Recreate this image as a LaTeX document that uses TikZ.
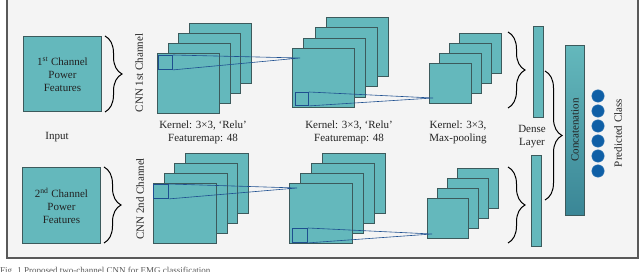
\documentclass[tikz,border=0pt]{standalone}
\usepackage{fontspec}
\setmainfont{Liberation Serif}
\usetikzlibrary{decorations.pathreplacing}
\definecolor{teal1}{HTML}{64B8BC}
\definecolor{teal2}{HTML}{3A8696}
\definecolor{edge1}{HTML}{3C5A5C}
\definecolor{kblue}{HTML}{1E4F8F}
\definecolor{cblue}{HTML}{0F5FA6}
\definecolor{bg}{HTML}{F4F4F4}
\definecolor{txt}{HTML}{222222}
\tikzset{
  fm/.style={draw=edge1, fill=teal1, line width=0.9pt, inner sep=0pt, anchor=north west},
  kern/.style={draw=kblue, line width=0.9pt, inner sep=0pt, anchor=north west},
  kline/.style={draw=kblue, line width=0.6pt},
  brc/.style={decorate, decoration={brace, amplitude=17pt}, line width=1pt, draw=black},
  lbl/.style={text=txt, font=\fontsize{11}{13}\selectfont, inner sep=0pt, align=center},
  dot/.style={circle, fill=cblue, draw=cblue!80!white, inner sep=0pt, minimum size=12.5pt}
}
\begin{document}
\begin{tikzpicture}[x=1pt,y=-1pt]
\useasboundingbox (0,0) rectangle (640,272);
\fill[white] (0,0) rectangle (640,272);
\filldraw[fill=bg, draw=gray!70!black, line width=1.5pt] (7,-5) rectangle (638,258);
% caption (cropped at the lower edge, as in the reference)
\node[anchor=north west, inner sep=0pt, text=gray!70!black, font=\fontsize{9}{10}\selectfont] (cap) at (0,267) {Fig. 1 Proposed two-channel CNN for EMG classification};

% inputs
\node[fm, minimum width=78pt, minimum height=75pt] (in1) at (23,36) {};
\node[lbl] (in1t) at (in1.center) {1\textsuperscript{st} Channel\\Power\\Features};
\node[fm, minimum width=78pt, minimum height=76pt] (in2) at (22,167) {};
\node[lbl] (in2t) at (in2.center) {2\textsuperscript{nd} Channel\\Power\\Features};
\node[lbl] (inp) at (57,137) {Input};

% braces after inputs
\coordinate (b1a) at (105,36); \coordinate (b1b) at (105,112);
\draw[brc] (b1a) -- (b1b);
\coordinate (b2a) at (104,167); \coordinate (b2b) at (104,243);
\draw[brc] (b2a) -- (b2b);

\node[lbl, rotate=90] (cnn1) at (139,73) {CNN 1st Channel};
\node[lbl, rotate=90] (cnn2) at (140,199) {CNN 2nd Channel};

% top stack 1
\foreach \i in {3,2,1,0} \node[fm, minimum width=62pt, minimum height=60pt] (ta\i) at ({157+10.7*\i},{53-10*\i}) {};
% top stack 2
\foreach \i in {3,2,1,0} \node[fm, minimum width=62pt, minimum height=59pt] (tb\i) at ({292+11.3*\i},{48-10.3*\i}) {};
% top stack 3
\foreach \i in {3,2,1,0} \node[fm, minimum width=42pt, minimum height=40pt] (tc\i) at ({429+10*\i},{63-10*\i}) {};

% bottom stack 1
\foreach \i in {3,2,1,0} \node[fm, minimum width=63pt, minimum height=60pt] (ba\i) at ({153+10.7*\i},{183-10*\i}) {};
% bottom stack 2
\foreach \i in {3,2,1,0} \node[fm, minimum width=63pt, minimum height=60pt] (bb\i) at ({289+11*\i},{183-10*\i}) {};
% bottom stack 3
\foreach \i in {3,2,1,0} \node[fm, minimum width=41pt, minimum height=40pt] (bc\i) at ({427+10*\i},{198-10*\i}) {};

% kernels and projection lines
\node[kern, minimum width=14pt, minimum height=14pt] (k1) at (158,55) {};
\coordinate (p1) at (300,58);
\draw[kline] (k1.north east) -- (p1) (k1.south east) -- (p1);
\node[kern, minimum width=13pt, minimum height=13pt] (k2) at (295,92) {};
\coordinate (p2) at (433,98);
\draw[kline] (k2.north east) -- (p2) (k2.south east) -- (p2);
\node[kern, minimum width=15pt, minimum height=14pt] (k3) at (153,184) {};
\coordinate (p3) at (297,188);
\draw[kline] (k3.north east) -- (p3) (k3.south east) -- (p3);
\node[kern, minimum width=15pt, minimum height=14pt] (k4) at (292,228) {};
\coordinate (p4) at (432,234);
\draw[kline] (k4.north east) -- (p4) (k4.south east) -- (p4);

% labels
\node[lbl] (l1) at (203,132) {Kernel: 3×3, ‘Relu’\\Featuremap: 48};
\node[lbl] (l2) at (349,132) {Kernel: 3×3, ‘Relu’\\Featuremap: 48};
\node[lbl] (l3) at (458,132) {Kernel: 3×3,\\Max-pooling};

% braces before dense
\coordinate (b3a) at (508,32); \coordinate (b3b) at (508,108);
\draw[brc] (b3a) -- (b3b);
\coordinate (b4a) at (508,167); \coordinate (b4b) at (508,243);
\draw[brc] (b4a) -- (b4b);

% dense
\node[fm, minimum width=10pt, minimum height=91pt] (d1) at (533,26) {};
\node[fm, minimum width=10pt, minimum height=91pt] (d2) at (531,155) {};
\node[lbl] (dl) at (532,137) {Dense\\Layer};

% big brace
\coordinate (b5a) at (545,71); \coordinate (b5b) at (545,200);
\draw[brc] (b5a) -- (b5b);

% concatenation
\node[draw=edge1, line width=0.9pt, top color=teal1, bottom color=teal2, minimum width=19pt, minimum height=170pt, inner sep=0pt, anchor=north west] (cc) at (565,45) {};
\node[lbl, rotate=90] (cct) at (575,130) {Concatenation};

% output circles
\foreach \k in {0,...,5} \node[dot] (o\k) at (598,{96+15*\k}) {};
\node[lbl, rotate=90] (pc) at (618,133) {Predicted Class};
\end{tikzpicture}
\end{document}
